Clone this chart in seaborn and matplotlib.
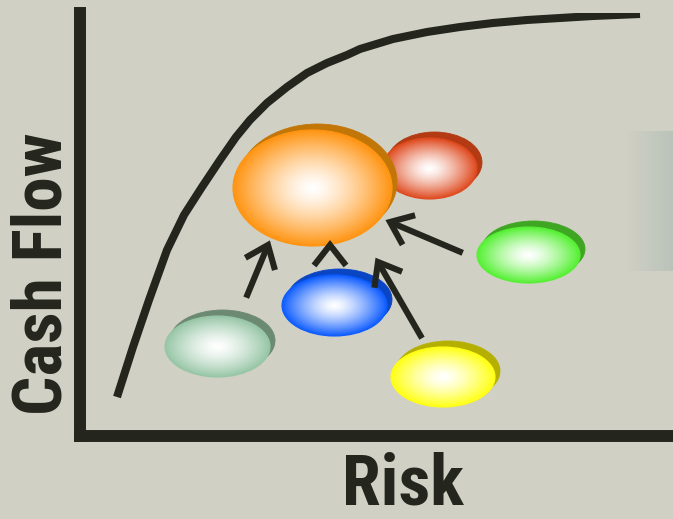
import os
import numpy as np
import matplotlib
matplotlib.use("Agg")
import matplotlib.pyplot as plt
from matplotlib.patches import Ellipse
from matplotlib.colors import to_rgb
from matplotlib import font_manager
import seaborn as sns

# Canvas units: x grows to the right (risk), y grows upward (cash flow)
W, H = 673, 519

# Efficient frontier: cash flow against risk
curve_risk = [117, 133, 149, 167, 184, 202, 220, 236, 250, 267, 287, 307,
              327, 347, 360, 393, 427, 460, 493, 527, 560, 593, 640]
curve_cash = [122, 172, 219, 269, 304, 332, 359, 382, 399, 416, 432, 446,
              456, 464, 470, 480, 487, 492, 496, 499, 501, 503, 505]

# Individual investments drawn as discs (centre, size, colour)
disc_x = [429.5, 312.5, 528.5, 334.5, 217.5, 443.0]
disc_y = [350.5, 331.0, 264.0, 213.5, 172.5, 142.0]
disc_w = [95, 159, 103, 105, 105, 104]
disc_h = [61, 116, 56, 61, 61, 60]
disc_face = ["#df4a1f", "#ff9412", "#55f033", "#0d5cff", "#97c6a6", "#ffff14"]
disc_rim = ["#b33a12", "#c27608", "#3ea623", "#0a46c4", "#6c8a72", "#b5b000"]

# Arrows pointing into the combined portfolio (tip, heading in degrees, shaft length)
arrow_tip_x = [268, 330, 378, 390]
arrow_tip_y = [274, 274, 257, 297]
arrow_heading = [67.5, 90, 120, 157]
arrow_shaft = [57, 0, 88, 79]

x_label = "Risk"
y_label = "Cash Flow"

bg = "#d0d0c4"
ink = "#24261e"

sns.set_theme(style="ticks", rc={"figure.facecolor": bg, "axes.facecolor": bg})
plt.rcParams["font.family"] = ["Liberation Sans", "DejaVu Sans"]


def narrow_bold_font():
    """Pick a narrow bold sans face if one is installed, else plain bold."""
    order = ["Liberation Sans Narrow", "Arial Narrow", "Roboto Condensed",
             "Noto Sans", "Open Sans"]
    skip = ("semi", "extra", "ultra", "demi", "italic", "oblique", "black", "light")
    found = {}
    for f in font_manager.fontManager.ttflist:
        fn = os.path.basename(f.fname).lower()
        if not ("narrow" in fn or "cond" in fn):
            continue
        if "bold" not in fn or any(s in fn for s in skip):
            continue
        found.setdefault(f.name, f.fname)
    for name in order:
        if name in found:
            return font_manager.FontProperties(fname=found[name])
    return font_manager.FontProperties(family="Liberation Sans", weight="bold")


label_font = narrow_bold_font()

fig = plt.figure(figsize=(W / 100, H / 100), dpi=100)
left, right, top, bottom = 79.5, 673.0, 13.0, 436.0
ax = fig.add_axes([left / W, (H - bottom) / H, (right - left) / W, (bottom - top) / H])
xlim = (left, right)
ylim = (H - bottom, H - top)

# soft grey panel at the right edge
grad = np.linspace(0, 1, 64)[None, :, None]
c0 = np.array(to_rgb(bg))
c1 = np.array([0.73, 0.765, 0.73])
panel = np.repeat((1 - grad) * c0 + grad * c1, 4, axis=0)
ax.imshow(panel, extent=(626, 673, 248, 388), origin="lower", aspect="auto",
          interpolation="bilinear", zorder=0.5)

# frontier curve
sns.lineplot(x=curve_risk, y=curve_cash, ax=ax, color=ink, linewidth=5.8,
             sort=False, estimator=None, solid_capstyle="butt",
             solid_joinstyle="round", zorder=2)


def radial_disc(cx, cy, w, h, face, rim, z):
    # darker extruded rim, shifted up and to the right
    ax.add_patch(Ellipse((cx + 5, cy + 6), w, h, facecolor=rim, edgecolor=rim,
                         lw=0.6, zorder=z))
    u = np.linspace(-1, 1, 256)
    X, Y = np.meshgrid(u, u)
    r = np.clip(np.hypot(X, Y), 0, 1)
    t = (r ** 1.35)[..., None]
    img = (1 - t) * np.ones(3) + t * np.array(to_rgb(face))
    im = ax.imshow(img, extent=(cx - w / 2, cx + w / 2, cy - h / 2, cy + h / 2),
                   origin="lower", aspect="auto", interpolation="bilinear",
                   zorder=z + 0.1)
    clip = Ellipse((cx, cy), w, h, facecolor="none", edgecolor=face, lw=0.8,
                   zorder=z + 0.2)
    ax.add_patch(clip)
    im.set_clip_path(clip)


for i, (cx, cy, w, h, fc, rc) in enumerate(zip(disc_x, disc_y, disc_w, disc_h,
                                                disc_face, disc_rim)):
    radial_disc(cx, cy, w, h, fc, rc, 3 + i)


def rot(v, deg):
    a = np.deg2rad(deg)
    c, s = np.cos(a), np.sin(a)
    return np.array([c * v[0] - s * v[1], s * v[0] + c * v[1]])


head_len, head_half = 26, 38
for tx, ty, ang, L in zip(arrow_tip_x, arrow_tip_y, arrow_heading, arrow_shaft):
    d = np.array([np.cos(np.deg2rad(ang)), np.sin(np.deg2rad(ang))])
    tip = np.array([tx, ty], dtype=float)
    if L > 0:
        tail = tip - d * L
        end = tip - d * 3
        ax.plot([tail[0], end[0]], [tail[1], end[1]], color=ink, lw=4.4,
                solid_capstyle="butt", zorder=20)
    a1 = tip + rot(-d, head_half) * head_len
    a2 = tip + rot(-d, -head_half) * head_len
    ax.plot([a1[0], tip[0], a2[0]], [a1[1], tip[1], a2[1]], color=ink, lw=4.4,
            solid_capstyle="butt", solid_joinstyle="miter", zorder=20)

ax.set_xlim(*xlim)
ax.set_ylim(*ylim)
ax.set_xticks([])
ax.set_yticks([])
sns.despine(ax=ax)
for side in ("left", "bottom"):
    sp = ax.spines[side]
    sp.set_linewidth(8.6)
    sp.set_color(ink)
    sp.set_capstyle("projecting")
    sp.set_zorder(25)

xl = ax.set_xlabel(x_label, fontproperties=label_font, color=ink,
                   va="bottom", ha="center")
yl = ax.set_ylabel(y_label, fontproperties=label_font, color=ink,
                   va="center", ha="center")
ax.xaxis.set_label_coords((403 - left) / (right - left), (0.5 - ylim[0]) / (ylim[1] - ylim[0]))
ax.yaxis.set_label_coords((43 - left) / (right - left), (245 - ylim[0]) / (ylim[1] - ylim[0]))

# size each label so its run length matches the layout
renderer = fig.canvas.get_renderer()
for lab, target, along, size_cap in ((xl, 122, "w", 53), (yl, 282, "h", 50)):
    lab.set_fontsize(40)
    bb = lab.get_window_extent(renderer)
    run = bb.width if along == "w" else bb.height
    lab.set_fontsize(min(size_cap, 40 * target / run))

fig.savefig("out.png", dpi=100, facecolor=bg)
